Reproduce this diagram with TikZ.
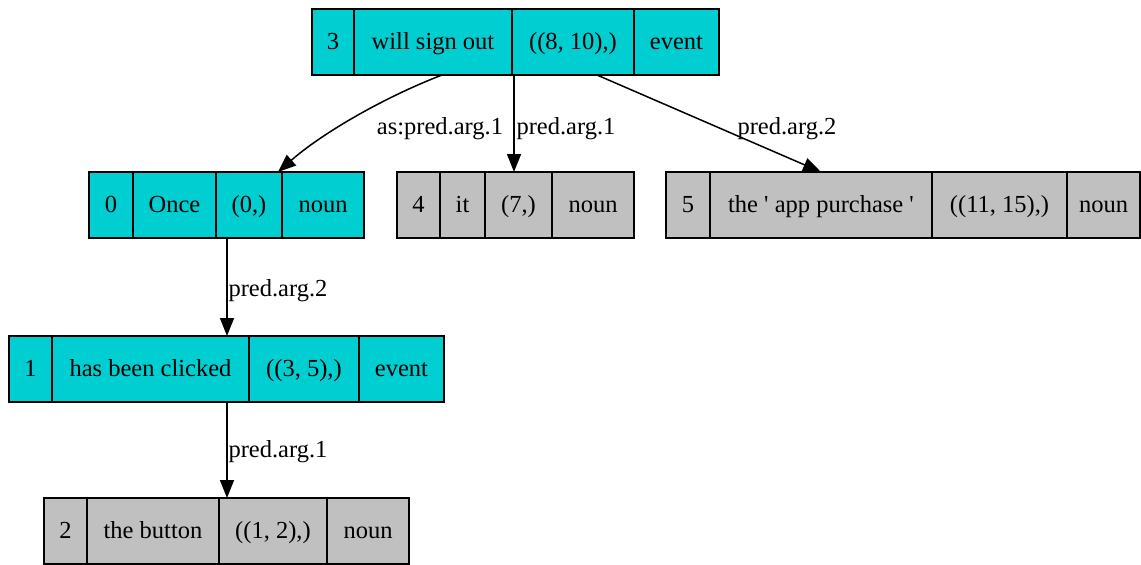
\documentclass[tikz,border=0pt]{standalone}
\usepackage{fontspec}
\setmainfont{Liberation Serif}[Ligatures=TeXOff]
\usetikzlibrary{arrows.meta,calc}
\definecolor{evfill}{HTML}{00CED1}
\definecolor{nnfill}{HTML}{C0C0C0}
\tikzset{
  x=1pt, y=-1pt,
  txt/.style={font=\fontsize{24.5}{29}\selectfont},
  cell/.style={txt, draw=black, line width=1.4pt, inner sep=0pt, outer sep=0pt,
    minimum height=66pt, anchor=north west, text height=19pt, text depth=5pt},
  recframe/.style={draw=black, line width=1.4pt, inner sep=0pt, outer sep=0pt,
    minimum height=66pt, anchor=north west},
  edge/.style={draw=black, line width=1.5pt, -{Triangle[length=18pt,width=14pt]}},
  elabel/.style={txt, inner sep=0pt, text height=17pt, text depth=5pt}
}
% record: name, top, fill, left, right, cells (left/right/text)
\newcommand\drawrecord[6]{%
  \foreach \a/\b/\t in {#6} {\node[cell, fill=#3, minimum width={\b-\a}] at (\a,#2) {\t};}
  \node[recframe, minimum width={#5-#4}] (#1) at (#4,#2) {};
}
\begin{document}
\begin{tikzpicture}
\useasboundingbox (0,0) rectangle (1141,565);

\drawrecord{r3}{9}{evfill}{312}{719}{312/354/3, 354/512/will sign out, 512/634/{((8, 10),)}, 634/719/event}
\drawrecord{r0}{172}{evfill}{89}{364}{89/133/0, 133/216/Once, 216/282/{(0,)}, 282/364/noun}
\drawrecord{r4}{172}{nnfill}{397}{634}{397/440/4, 440/485/it, 485/552/{(7,)}, 552/634/noun}
\drawrecord{r5}{172}{nnfill}{666}{1140}{666/710/5, 710/932/the ' app purchase ', 932/1067/{((11, 15),)}, 1067/1140/noun}
\drawrecord{r1}{336}{evfill}{9}{444}{9/52/1, 52/249/has been clicked, 249/359/{((3, 5),)}, 359/444/event}
\drawrecord{r2}{498}{nnfill}{44}{409}{44/87/2, 87/219/the button, 219/327/{((1, 2),)}, 327/409/noun}

% connectors
\draw[edge] ($(r3.south west)+(130,0)$) .. controls ($(r3.south west)+(68,24)$) and ($(r0.north west)+(231,-37)$) .. ($(r0.north west)+(189,0)$);
\draw[edge] ($(r3.south west)+(202,0)$) -- ($(r4.north west)+(117,0)$);
\draw[edge] ($(r3.south west)+(285,0)$) -- ($(r5.north west)+(155,0)$);
\draw[edge] ($(r0.south west)+(138,0)$) -- ($(r1.north west)+(218,0)$);
\draw[edge] ($(r1.south west)+(218,0)$) -- ($(r2.north west)+(183,0)$);

% connector labels
\node[elabel] (l30) at (440,128) {as:pred.arg.1};
\node[elabel] (l34) at (566,128) {pred.arg.1};
\node[elabel] (l35) at (787,128) {pred.arg.2};
\node[elabel] (l01) at (278,290) {pred.arg.2};
\node[elabel] (l12) at (278,451) {pred.arg.1};
\end{tikzpicture}
\end{document}
